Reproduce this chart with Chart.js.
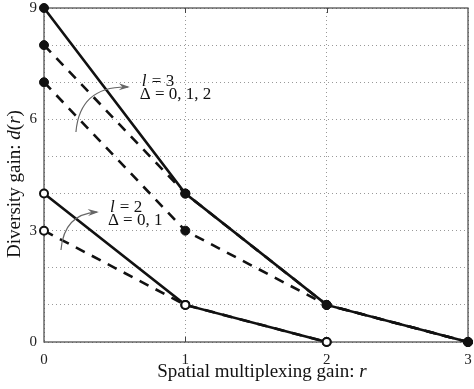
<!DOCTYPE html>
<html><head><meta charset="utf-8">
<script src="https://cdn.jsdelivr.net/npm/chart.js@4.4.1/dist/chart.umd.min.js"></script>
<style>html,body{margin:0;padding:0;background:#fff}#wrap{width:474px;height:389px}</style>
</head><body><div id="wrap"><canvas id="c" width="474" height="389"></canvas></div>
<script>
// ---- data ----
const rValues = [0, 1, 2, 3];
const l3Delta0 = [9, 4, 1, 0];
const l3Delta1 = [8, 4, 1, 0];
const l3Delta2 = [7, 3, 1, 0];
const l2Delta0 = [4, 1, 0];
const l2Delta1 = [3, 1, 0];
const yTickLabels = [0, 3, 6, 9];
const xTickLabels = [0, 1, 2, 3];

const pts = (ys) => ys.map((y, i) => ({x: rValues[i], y}));
const SERIF = '"Liberation Serif","DejaVu Serif",serif';

// annotations in data coordinates
const arrows = [
  {from:[0.226,5.66], ctrl:[0.254,6.90], to:[0.593,6.87]},
  {from:[0.120,2.48], ctrl:[0.141,3.45], to:[0.374,3.50]}
];
const notes = [
  {x:0.678, y:7.03, l:'3', d:'0, 1, 2'},
  {x:0.452, y:3.61, l:'2', d:'0, 1'}
];

const deco = {
  id:'deco',
  beforeDatasetsDraw(chart){
    const {ctx, chartArea:a, scales:{x}} = chart;
    ctx.save();
    ctx.strokeStyle = '#444'; ctx.lineWidth = 1.2;
    ctx.strokeRect(a.left, a.top, a.right - a.left, a.bottom - a.top);
    ctx.lineWidth = 1;
    [1, 2].forEach(v => {
      const px = Math.round(x.getPixelForValue(v)) + 0.5;
      ctx.beginPath();
      ctx.moveTo(px, a.bottom); ctx.lineTo(px, a.bottom - 5);
      ctx.moveTo(px, a.top); ctx.lineTo(px, a.top + 5);
      ctx.stroke();
    });
    ctx.restore();
  },
  afterDraw(chart){
    const {ctx, chartArea:a, scales:{x, y}} = chart;
    ctx.save();
    // arrows
    ctx.strokeStyle = '#666'; ctx.fillStyle = '#666'; ctx.lineWidth = 1.2;
    arrows.forEach(ar => {
      const p0 = [x.getPixelForValue(ar.from[0]), y.getPixelForValue(ar.from[1])];
      const c = [x.getPixelForValue(ar.ctrl[0]), y.getPixelForValue(ar.ctrl[1])];
      const p2 = [x.getPixelForValue(ar.to[0]), y.getPixelForValue(ar.to[1])];
      ctx.beginPath(); ctx.moveTo(p0[0], p0[1]);
      ctx.quadraticCurveTo(c[0], c[1], p2[0], p2[1]); ctx.stroke();
      const ang = Math.atan2(p2[1] - c[1], p2[0] - c[0]);
      const L = 9, W = 3.5;
      ctx.beginPath();
      ctx.moveTo(p2[0] + 2 * Math.cos(ang), p2[1] + 2 * Math.sin(ang));
      ctx.lineTo(p2[0] - L * Math.cos(ang) + W * Math.sin(ang), p2[1] - L * Math.sin(ang) - W * Math.cos(ang));
      ctx.lineTo(p2[0] - 0.6 * L * Math.cos(ang), p2[1] - 0.6 * L * Math.sin(ang));
      ctx.lineTo(p2[0] - L * Math.cos(ang) - W * Math.sin(ang), p2[1] - L * Math.sin(ang) + W * Math.cos(ang));
      ctx.closePath(); ctx.fill();
    });
    // notes
    ctx.fillStyle = '#111'; ctx.textBaseline = 'middle'; ctx.textAlign = 'left';
    notes.forEach(n => {
      const px = x.getPixelForValue(n.x), py = y.getPixelForValue(n.y);
      ctx.font = 'italic 17px ' + SERIF;
      ctx.fillText('l', px + 2, py);
      ctx.font = '17px ' + SERIF;
      ctx.fillText(' = ' + n.l, px + 2 + ctx.measureText('l').width + 1, py);
      const py2 = y.getPixelForValue(n.y) + 13;
      ctx.fillText('\u0394 = ' + n.d, px, py2);
    });
    // x title
    const FS = '19px ';
    ctx.textBaseline = 'middle';
    const t1 = 'Spatial multiplexing gain: ';
    ctx.font = FS + SERIF; const w1 = ctx.measureText(t1).width;
    ctx.font = 'italic ' + FS + SERIF; const w2 = ctx.measureText('r').width;
    const cx = (a.left + a.right) / 2 + 6, tx = cx - (w1 + w2) / 2, ty = a.bottom + 30;
    ctx.font = FS + SERIF; ctx.fillText(t1, tx, ty);
    ctx.font = 'italic ' + FS + SERIF; ctx.fillText('r', tx + w1, ty);
    // y title
    ctx.translate(15, (a.top + a.bottom) / 2 + 9);
    ctx.rotate(-Math.PI / 2);
    const parts = [['Diversity gain: ',false],['d',true],['(',false],['r',true],[')',false]];
    let tw = 0;
    parts.forEach(p => { ctx.font = (p[1] ? 'italic ' : '') + FS + SERIF; tw += ctx.measureText(p[0]).width; });
    let ox = -tw / 2;
    parts.forEach(p => { ctx.font = (p[1] ? 'italic ' : '') + FS + SERIF; ctx.fillText(p[0], ox, 0); ox += ctx.measureText(p[0]).width; });
    ctx.restore();
  }
};

const solid = {borderColor:'#111', borderWidth:2.6, borderDash:[]};
const dashed = {borderColor:'#111', borderWidth:2.6, borderDash:[10,8]};
const filledPt = {pointRadius:4.5, pointBackgroundColor:'#111', pointBorderColor:'#111', pointBorderWidth:1};
const openPt = {pointRadius:4, pointBackgroundColor:'#fff', pointBorderColor:'#111', pointBorderWidth:2};

new Chart(document.getElementById('c'), {
  type:'line',
  data:{datasets:[
    {label:'l=3, Δ=0', data:pts(l3Delta0), ...solid, ...filledPt},
    {label:'l=2, Δ=0', data:pts(l2Delta0), ...solid, ...openPt},
    {label:'l=3, Δ=1', data:pts(l3Delta1), ...dashed, ...filledPt},
    {label:'l=3, Δ=2', data:pts(l3Delta2), ...dashed, ...filledPt},
    {label:'l=2, Δ=1', data:pts(l2Delta1), ...dashed, ...openPt}
  ]},
  options:{
    responsive:false, animation:false, devicePixelRatio:1,
    clip:false,
    layout:{padding:{top:8, right:5, left:0, bottom:0}},
    plugins:{legend:{display:false}, tooltip:{enabled:false}},
    elements:{line:{tension:0, fill:false}},
    scales:{
      x:{type:'linear', min:0, max:3,
        border:{display:false, dash:[1,3]},
        grid:{color:'#999', lineWidth:1, drawTicks:false},
        ticks:{stepSize:1, padding:9, color:'#222', font:{family:SERIF, size:15},
          callback:(v) => xTickLabels.includes(v) ? String(v) : ''},
        afterFit:(s) => { s.height = 47; s.paddingLeft = 0; s.paddingRight = 0; }
      },
      y:{type:'linear', min:0, max:9,
        border:{display:false, dash:[1,3]},
        grid:{color:'#999', lineWidth:1, drawTicks:false},
        ticks:{stepSize:1, padding:7, color:'#222', font:{family:SERIF, size:15},
          callback:(v) => yTickLabels.includes(v) ? String(v) : ''},
        afterFit:(s) => { s.width = 44; s.paddingTop = 0; s.paddingBottom = 0; }
      }
    }
  },
  plugins:[deco]
});
</script>
</body></html>
